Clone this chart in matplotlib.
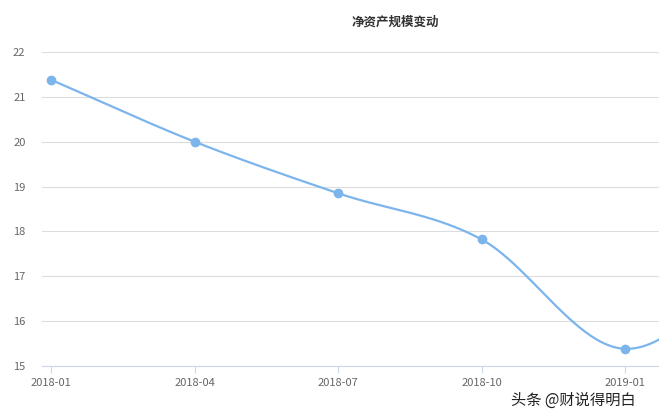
import numpy as np
import matplotlib
matplotlib.use("Agg")
import matplotlib.pyplot as plt

plt.rcParams['font.family'] = ['Noto Sans CJK SC', 'DejaVu Sans']

months = ["2018-01", "2018-04", "2018-07", "2018-10", "2019-01"]
values = [21.38, 20.0, 18.85, 17.82, 15.38]
next_value = 17.6  # next quarter, only partly visible at right edge

# catmull-rom style smoothing through the points
ys = np.array(values + [next_value])
xs = np.arange(len(ys), dtype=float)
tang = np.gradient(ys, xs)
cx, cy = [], []
for i in range(len(xs) - 1):
    t = np.linspace(0, 1, 40)
    h00 = 2*t**3 - 3*t**2 + 1
    h10 = t**3 - 2*t**2 + t
    h01 = -2*t**3 + 3*t**2
    h11 = t**3 - t**2
    cx.extend(xs[i] + t)
    cy.extend(h00*ys[i] + h10*tang[i] + h01*ys[i+1] + h11*tang[i+1])

fig = plt.figure(figsize=(6.59, 4.2), dpi=100)
ax = fig.add_axes([0.064, 0.129, 0.936, 0.747])
ax.plot(cx, cy, color="#7cb5ec", lw=1.6, clip_on=True)
ax.plot(range(len(values)), values, "o", color="#7cb5ec", ms=6, clip_on=False, zorder=3)

ax.set_xlim(-0.063, 4.237)
ax.set_ylim(15, 22)
ax.set_yticks(range(15, 23))
ax.set_xticks(range(len(months)))
ax.set_xticklabels(months)
ax.grid(axis="y", color="#dddddd", lw=0.8)
ax.set_axisbelow(True)
for s in ["top", "right", "left"]:
    ax.spines[s].set_visible(False)
ax.spines["bottom"].set_color("#ccd6eb")
ax.tick_params(axis="y", length=0, labelsize=8, colors="#666666", pad=12)
ax.tick_params(axis="x", length=5, color="#ccd6eb", labelsize=8, labelcolor="#666666")

fig.text(0.6, 0.947, "净资产规模变动", ha="center", va="center", fontsize=9, fontweight="bold", color="#333333")
fig.text(0.775, 0.047, "头条 @财说得明白", ha="left", va="center", fontsize=11, color="#222222")

fig.savefig("out.png", dpi=100)
